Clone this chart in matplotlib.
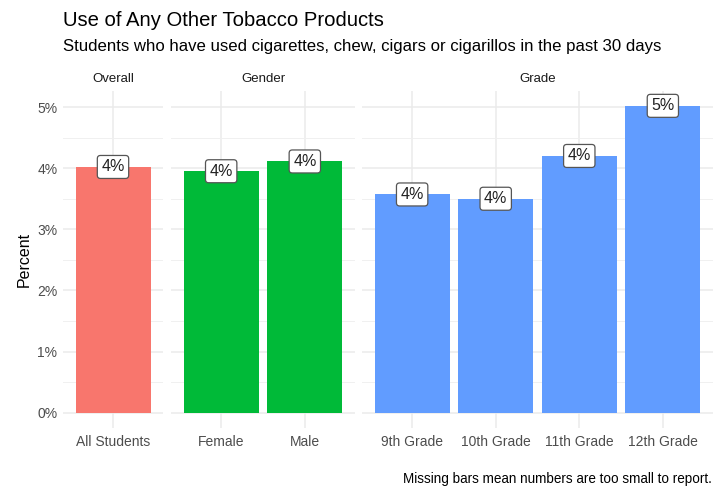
import matplotlib.pyplot as plt
import numpy as np

plt.rcParams['font.family'] = ['Liberation Sans', 'DejaVu Sans']

panels = ['Overall', 'Gender', 'Grade']
overall_labels = ['All Students']
overall_values = [4.02]
gender_labels = ['Female', 'Male']
gender_values = [3.95, 4.11]
grade_labels = ['9th Grade', '10th Grade', '11th Grade', '12th Grade']
grade_values = [3.57, 3.50, 4.20, 5.02]
bar_labels = {
    'Overall': ['4%'],
    'Gender': ['4%', '4%'],
    'Grade': ['4%', '4%', '4%', '5%'],
}
colors = {'Overall': '#F8766D', 'Gender': '#00BA38', 'Grade': '#619CFF'}

groups = [
    ('Overall', overall_labels, overall_values),
    ('Gender', gender_labels, gender_values),
    ('Grade', grade_labels, grade_values),
]

W, H = 719, 496
fig = plt.figure(figsize=(W / 100, H / 100), dpi=100)

# panel pixel extents (left, right)
extents = [(63, 163), (171, 355), (362, 713)]
top_px, bot_px = 90.5, 428

ymax = max(overall_values + gender_values + grade_values)
ylim = (-0.05 * ymax, ymax * 1.05)

for i, ((name, cats, vals), (x0, x1)) in enumerate(zip(groups, extents)):
    ax = fig.add_axes([x0 / W, (H - bot_px) / H, (x1 - x0) / W, (bot_px - top_px) / H])
    x = np.arange(len(cats))
    ax.bar(x, vals, width=0.9, color=colors[name], zorder=2)
    for xi, v, lab in zip(x, vals, bar_labels[name]):
        ax.text(xi, v, lab, ha='center', va='center', fontsize=11.5, color='#222222', zorder=3,
                bbox=dict(boxstyle='round,pad=0.25,rounding_size=0.2', fc='white', ec='#555555', lw=0.9))
    ax.set_xlim(-0.6, len(cats) - 0.4)
    ax.set_ylim(*ylim)
    ax.set_xticks(x)
    ax.set_xticklabels(cats)
    ax.set_yticks(np.arange(0, 6))
    ax.set_yticks(np.arange(0.5, 5.5, 1), minor=True)
    if i == 0:
        ax.set_yticklabels([f'{t}%' for t in range(6)])
        ax.set_ylabel('Percent', fontsize=11.5, color='black', labelpad=4)
    else:
        ax.set_yticklabels([])
    ax.grid(True, which='major', color='#EBEBEB', lw=1.1, zorder=0)
    ax.grid(True, which='minor', axis='y', color='#F0F0F0', lw=0.7, zorder=0)
    ax.tick_params(axis='both', which='both', length=0, colors='#4D4D4D', labelsize=10)
    ax.tick_params(axis='x', pad=5)
    ax.tick_params(axis='y', pad=4)
    for s in ax.spines.values():
        s.set_visible(False)
    ax.set_title(name, fontsize=9.5, color='#1A1A1A', pad=6)

fig.text(63 / W, 1 - 20 / H, 'Use of Any Other Tobacco Products', fontsize=14.6, va='center', ha='left')
fig.text(63 / W, 1 - 47 / H,
         'Students who have used cigarettes, chew, cigars or cigarillos in the past 30 days',
         fontsize=12.1, va='center', ha='left')
fig.text(712 / W, 1 - 479 / H, 'Missing bars mean numbers are too small to report.',
         fontsize=9.75, va='center', ha='right')

fig.savefig('out.png', dpi=100)
